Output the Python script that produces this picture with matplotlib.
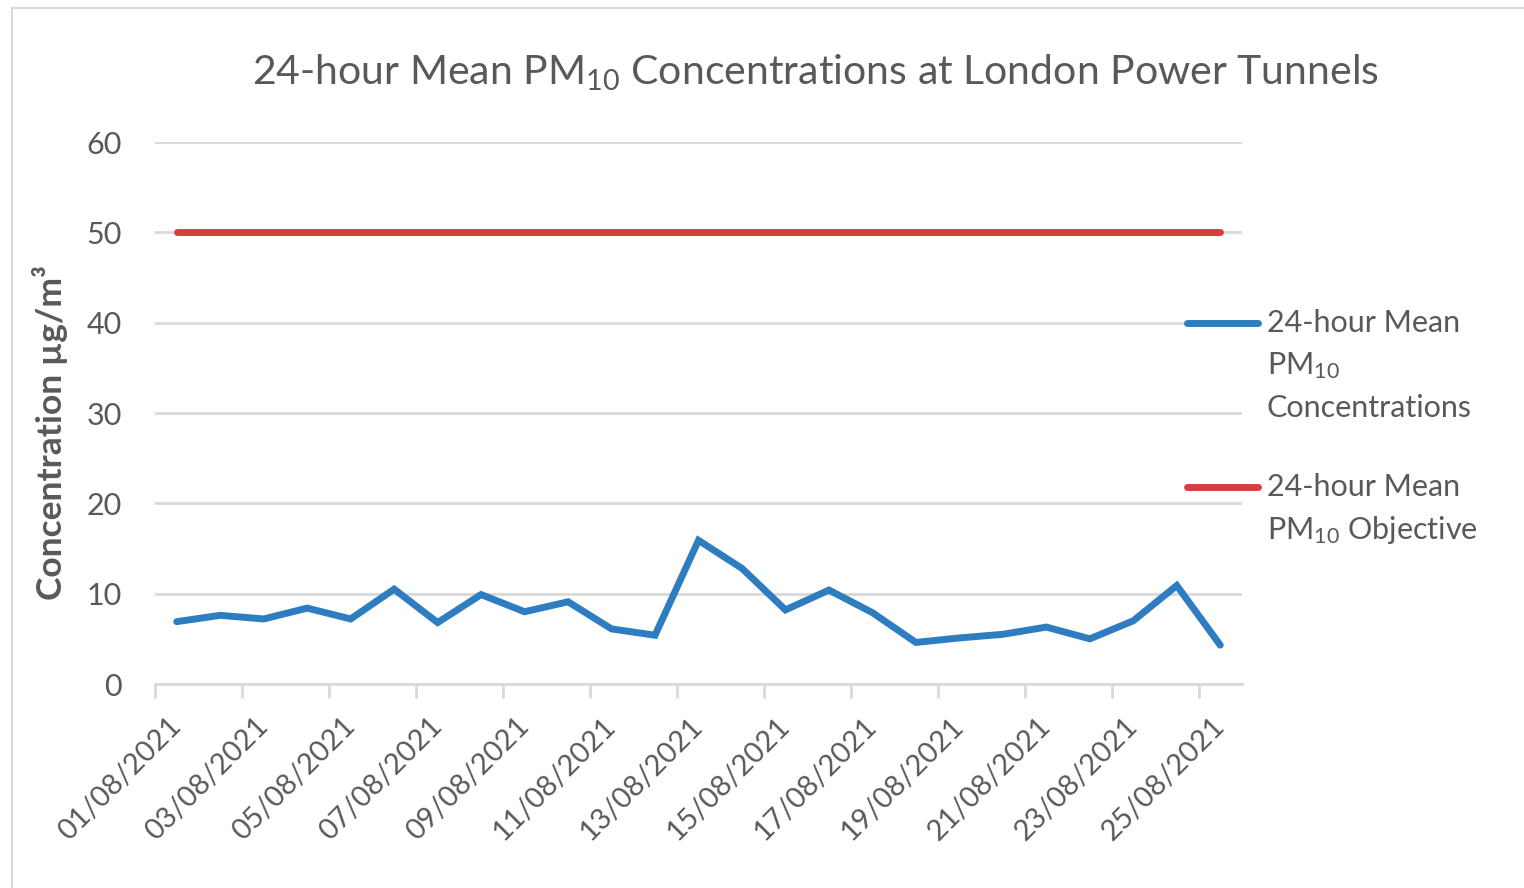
import matplotlib
matplotlib.use("Agg")
import matplotlib.pyplot as plt
import matplotlib.transforms as mtransforms
from matplotlib.patches import Rectangle

plt.rcParams['font.family'] = ['Lato', 'DejaVu Sans']
plt.rcParams['mathtext.fontset'] = 'custom'
plt.rcParams['mathtext.rm'] = 'Lato'
plt.rcParams['mathtext.it'] = 'Lato'
plt.rcParams['mathtext.bf'] = 'Lato:bold'

dates = ["01/08/2021", "02/08/2021", "03/08/2021", "04/08/2021", "05/08/2021",
         "06/08/2021", "07/08/2021", "08/08/2021", "09/08/2021", "10/08/2021",
         "11/08/2021", "12/08/2021", "13/08/2021", "14/08/2021", "15/08/2021",
         "16/08/2021", "17/08/2021", "18/08/2021", "19/08/2021", "20/08/2021",
         "21/08/2021", "22/08/2021", "23/08/2021", "24/08/2021", "25/08/2021"]
pm10 = [6.9, 7.6, 7.2, 8.4, 7.2, 10.5, 6.8, 9.9, 8.0, 9.1, 6.1, 5.4, 15.9,
        12.8, 8.2, 10.4, 7.9, 4.6, 5.1, 5.5, 6.3, 5.0, 7.0, 10.9, 4.3]
objective = [50] * len(dates)
yticks = [0, 10, 20, 30, 40, 50, 60]

BLUE = '#2e7dc1'
RED = '#d63f3f'
GRID = '#d9d9d9'
TXT = '#595959'

fig = plt.figure(figsize=(15.24, 8.88), dpi=100)
fig.patches.append(Rectangle((12 / 1524, -0.01), 1.1, 1 - 8 / 888 + 0.01,
                             transform=fig.transFigure, fill=False,
                             edgecolor='#d9d9d9', linewidth=1.5))

ax = fig.add_axes([155 / 1524, 1 - 684 / 888, (1242 - 155) / 1524, (684 - 142) / 888])

x = [i + 0.5 for i in range(len(dates))]
ax.plot(x, pm10, color=BLUE, linewidth=5, solid_capstyle='round',
        solid_joinstyle='miter', zorder=3)
ax.plot(x, objective, color=RED, linewidth=5, solid_capstyle='round', zorder=3)

ax.set_xlim(0, len(dates))
ax.set_ylim(0, 60)
ax.set_yticks(yticks)
ax.set_yticklabels([str(v) for v in yticks], fontsize=22, color=TXT)
ax.yaxis.grid(True, color=GRID, linewidth=2)
ax.set_axisbelow(True)
ax.tick_params(axis='y', length=0, pad=24)

tick_pos = list(range(0, len(dates), 2))
ax.set_xticks(tick_pos)
ax.set_xticklabels([])
ax.tick_params(axis='x', length=10, width=2, color=GRID, pad=4)

offset = mtransforms.ScaledTranslation(0.22, -0.38, fig.dpi_scale_trans)
for i in tick_pos:
    ax.text(i, 0, dates[i], transform=ax.get_xaxis_transform() + offset,
            rotation=45, ha='right', va='center', rotation_mode='anchor',
            fontsize=21, color=TXT, clip_on=False)

for s in ['top', 'right', 'left']:
    ax.spines[s].set_visible(False)
ax.spines['bottom'].set_color(GRID)
ax.spines['bottom'].set_linewidth(2)

fig.text(50 / 1524, 1 - 433 / 888, r'Concentration µg/m³', rotation=90,
         fontsize=25.5, fontweight='bold', color=TXT, ha='center', va='center')

fig.text(815 / 1524, 1 - 73 / 888,
         r'24-hour Mean PM$_{10}$ Concentrations at London Power Tunnels',
         fontsize=29.5, color=TXT, ha='center', va='center')

# legend
def legend_entry(y_px, color, lines):
    fig.add_artist(plt.Line2D([1187 / 1524, 1258 / 1524], [1 - y_px / 888] * 2,
                              transform=fig.transFigure, color=color,
                              linewidth=5, solid_capstyle='round'))
    for k, t in enumerate(lines):
        fig.text(1267 / 1524, 1 - (y_px + 42.5 * k) / 888, t, fontsize=22,
                 color=TXT, ha='left', va='center')

legend_entry(323, BLUE, ['24-hour Mean', r'PM$_{10}$', 'Concentrations'])
legend_entry(487, RED, ['24-hour Mean', r'PM$_{10}$ Objective'])

fig.savefig('out.png', dpi=100, facecolor='white')
